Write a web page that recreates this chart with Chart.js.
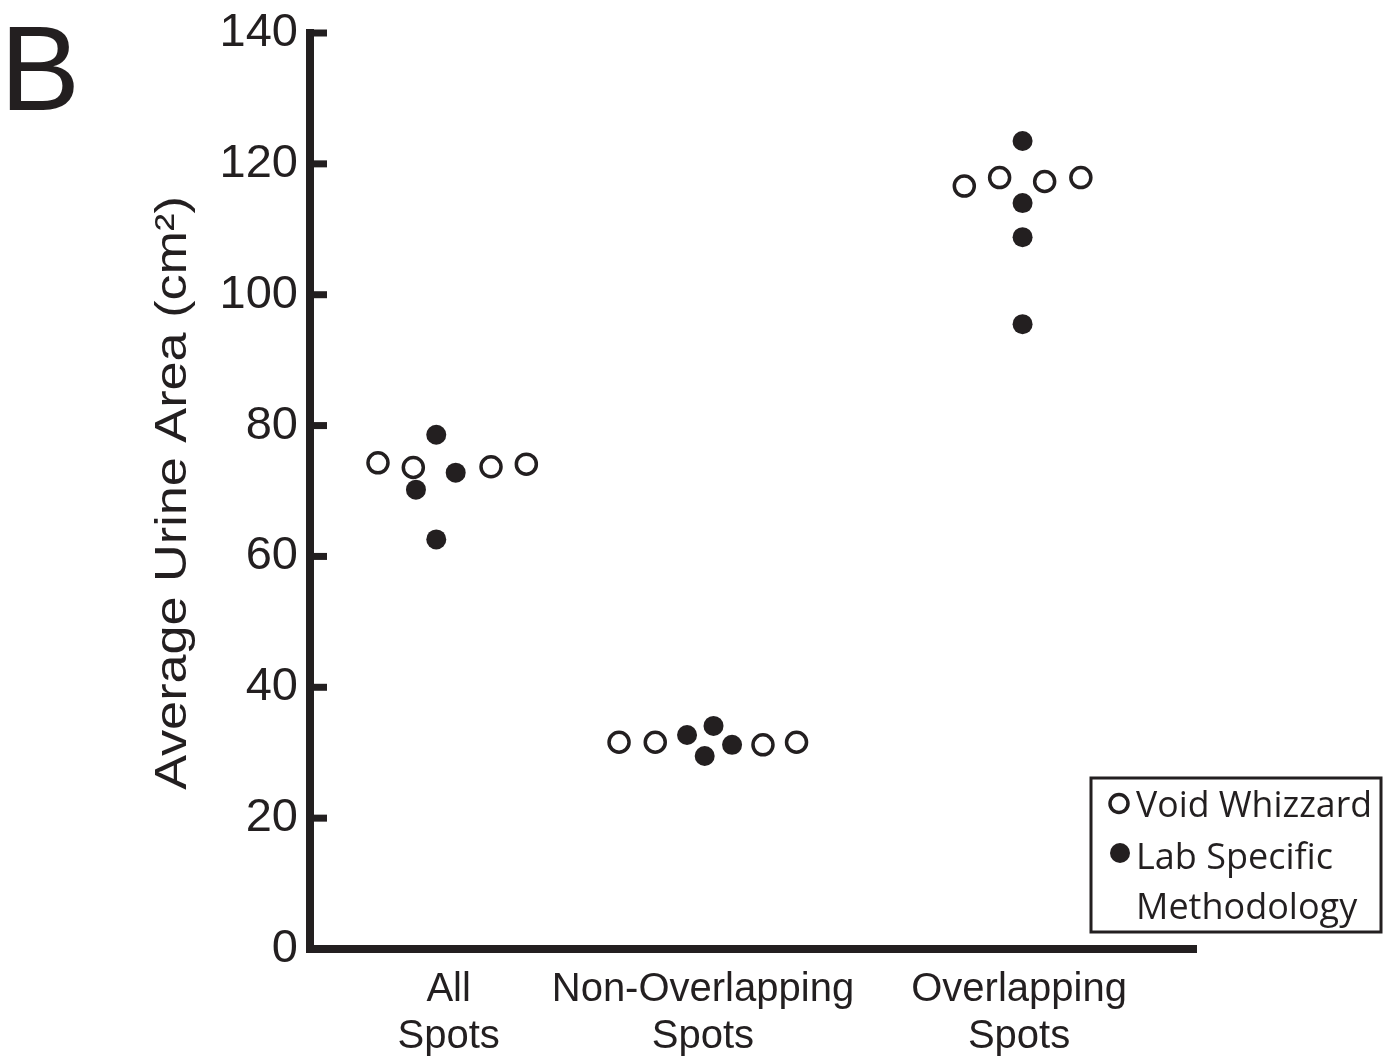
<!DOCTYPE html>
<html>
<head>
<meta charset="utf-8">
<script src="https://cdn.jsdelivr.net/npm/chart.js@4.4.0/dist/chart.umd.min.js"></script>
<style>
  html, body { margin: 0; padding: 0; background: #ffffff; }
  #wrap { position: relative; width: 1397px; height: 1064px; }
</style>
</head>
<body>
<div id="wrap"><canvas id="c"></canvas></div>
<script>
// ---- data ----
const panelLabel = 'B';
const yAxisTitle = 'Average Urine Area (cm²)';
const categories = [['All', 'Spots'], ['Non-Overlapping', 'Spots'], ['Overlapping', 'Spots']];
const categoryPositions = [15.7, 44.5, 80.3];
const yTicks = [0, 20, 40, 60, 80, 100, 120, 140];
const seriesNames = ['Void Whizzard', 'Lab Specific\nMethodology'];

const voidWhizzardX = [7.7, 11.7, 20.5, 24.5, 35.0, 39.1, 51.3, 55.1, 74.1, 78.1, 83.2, 87.3];
const voidWhizzardY = [74.3, 73.6, 73.7, 74.1, 31.6, 31.6, 31.2, 31.6, 116.6, 117.9, 117.3, 117.9];
const labSpecificX = [14.3, 12.0, 16.5, 14.3, 42.7, 45.7, 44.7, 47.8, 80.7, 80.7, 80.7, 80.7];
const labSpecificY = [78.6, 70.2, 72.8, 62.6, 32.7, 34.1, 29.5, 31.2, 123.5, 114.0, 108.8, 95.5];

// ---- styling ----
const INK = '#231f20';
const AXIS_FONT = "'Liberation Sans', Arial, Helvetica, sans-serif";
const LEGEND_FONT = "'Open Sans', 'Noto Sans', sans-serif";

const toPoints = (xs, ys) => xs.map((x, i) => ({ x: x, y: ys[i] }));

const decorPlugin = {
  id: 'decor',
  afterDraw(chart) {
    const ctx = chart.ctx;
    const area = chart.chartArea;
    const ys = chart.scales.y;
    ctx.save();
    ctx.strokeStyle = INK;
    ctx.fillStyle = INK;
    // axis lines
    ctx.lineWidth = 8;
    ctx.lineCap = 'square';
    ctx.beginPath();
    ctx.moveTo(area.left, area.top);
    ctx.lineTo(area.left, area.bottom);
    ctx.lineTo(area.right, area.bottom);
    ctx.stroke();
    // inward tick marks
    ctx.lineCap = 'butt';
    ctx.lineWidth = 7;
    ys.ticks.forEach(t => {
      const py = ys.getPixelForValue(t.value);
      ctx.beginPath();
      ctx.moveTo(area.left, py);
      ctx.lineTo(area.left + 17, py);
      ctx.stroke();
    });
    // panel label
    ctx.font = '120px ' + AXIS_FONT;
    ctx.textAlign = 'left';
    ctx.textBaseline = 'alphabetic';
    ctx.fillText(panelLabel, 0, 110);
    // y-axis title (rotated)
    ctx.save();
    ctx.translate(186, (area.top + area.bottom) / 2 + 2);
    ctx.rotate(-Math.PI / 2);
    ctx.scale(1.16, 1);
    ctx.font = '45px ' + AXIS_FONT;
    ctx.textAlign = 'center';
    ctx.fillText(yAxisTitle, 0, 0);
    ctx.restore();
    // legend box
    const bx = 1091, by = 778, bw = 290, bh = 154;
    ctx.lineWidth = 3;
    ctx.strokeRect(bx, by, bw, bh);
    ctx.font = '36px ' + LEGEND_FONT;
    ctx.textAlign = 'left';
    const ds = chart.data.datasets;
    // open marker
    ctx.beginPath();
    ctx.arc(1119, 803.5, 9, 0, Math.PI * 2);
    ctx.fillStyle = '#ffffff';
    ctx.fill();
    ctx.lineWidth = 3.5;
    ctx.strokeStyle = INK;
    ctx.stroke();
    ctx.fillStyle = INK;
    ctx.fillText(ds[0].label, 1136, 817, 236);
    // filled marker
    ctx.beginPath();
    ctx.arc(1120, 853, 10, 0, Math.PI * 2);
    ctx.fill();
    const lines = ds[1].label.split('\n');
    ctx.fillText(lines[0], 1136, 869, 236);
    ctx.fillText(lines[1], 1136, 919, 236);
    ctx.restore();
  }
};

new Chart(document.getElementById('c'), {
  type: 'scatter',
  data: {
    datasets: [
      {
        label: seriesNames[0],
        data: toPoints(voidWhizzardX, voidWhizzardY),
        pointRadius: 10,
        pointHoverRadius: 10,
        pointBackgroundColor: '#ffffff',
        pointBorderColor: INK,
        pointBorderWidth: 3.5,
        order: 2
      },
      {
        label: seriesNames[1],
        data: toPoints(labSpecificX, labSpecificY),
        pointRadius: 10,
        pointHoverRadius: 10,
        pointBackgroundColor: INK,
        pointBorderColor: INK,
        pointBorderWidth: 0,
        order: 1
      }
    ]
  },
  options: {
    responsive: true,
    maintainAspectRatio: false,
    animation: false,
    events: [],
    layout: { padding: { left: 0, top: 33, right: 204, bottom: 0 } },
    plugins: {
      legend: { display: false },
      tooltip: { enabled: false },
      title: { display: false }
    },
    scales: {
      x: {
        type: 'linear',
        position: 'bottom',
        min: 0,
        max: 100,
        afterBuildTicks: (axis) => { axis.ticks = categoryPositions.map(v => ({ value: v })); },
        afterFit: (axis) => { axis.height = 115; axis.paddingLeft = 0; axis.paddingRight = 0; },
        grid: { display: false, drawTicks: false },
        border: { display: false },
        ticks: {
          autoSkip: false,
          maxRotation: 0,
          minRotation: 0,
          padding: 18,
          color: INK,
          font: { family: AXIS_FONT, size: 40, lineHeight: 1.16 },
          callback: (value, index) => categories[index]
        }
      },
      y: {
        min: 0,
        max: 140,
        afterBuildTicks: (axis) => { axis.ticks = yTicks.map(v => ({ value: v })); },
        afterFit: (axis) => { axis.width = 310; axis.paddingTop = 0; axis.paddingBottom = 0; },
        grid: { display: false, drawTicks: false },
        border: { display: false },
        ticks: {
          padding: 12,
          color: INK,
          font: { family: AXIS_FONT, size: 47 }
        }
      }
    }
  },
  plugins: [decorPlugin]
});
</script>
</body>
</html>
